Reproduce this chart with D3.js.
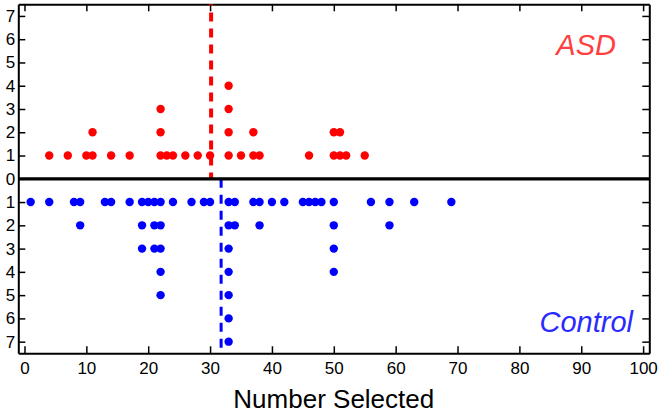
<!DOCTYPE html>
<html>
<head>
<meta charset="utf-8">
<script src="https://cdn.jsdelivr.net/npm/d3@7"></script>
<style>
  body { margin: 0; background: #fff; }
  svg { display: block; font-family: "Liberation Sans", Arial, Helvetica, sans-serif; }
</style>
</head>
<body>
<svg></svg>
<script>
(function () {
    'use strict';

    // number selected, one entry per subject
    const asdSelected = [4, 7, 10, 11, 11, 14, 17, 22, 22, 22, 23, 24, 26, 28, 30,
        33, 33, 33, 33, 35, 37, 37, 38, 46, 50, 50, 51, 51, 52, 55];
    const controlSelected = [1, 4, 8, 9, 9, 13, 14, 17, 19, 19, 19, 20, 21, 21, 21,
        22, 22, 22, 22, 22, 24, 27, 29, 30, 33, 33, 33, 33, 33, 33, 33, 34, 34, 37,
        38, 38, 40, 42, 45, 46, 47, 48, 50, 50, 50, 50, 56, 59, 59, 63, 69];

    const xTicks = d3.range(0, 101, 10);
    const yTicks = d3.range(-7, 8);
    const groupLabels = ['ASD', 'Control'];

    const width = 659;
    const height = 414;

    const margin = ({ top: 4.3, right: 9.7, bottom: 60.7, left: 18.3 });

    const x = d3.scaleLinear()
        .domain([-1, 101])
        .range([margin.left, width - margin.right]);

    const y = d3.scaleLinear()
        .domain([-7.5, 7.5])
        .range([height - margin.bottom, margin.top]);

    // stack repeated values into columns of dots
    const stack = (values, sign) => {
        const seen = new Map();
        return values.map(v => {
            const k = (seen.get(v) || 0) + 1;
            seen.set(v, k);
            return { x: v, y: sign * k };
        });
    };

    const asdPoints = stack(asdSelected, 1);
    const controlPoints = stack(controlSelected, -1);

    const svg = d3.select('svg')
        .attr('width', width)
        .attr('height', height)
        .attr('viewBox', [0, 0, width, height]);

    const styleAxis = g => {
        g.select('.domain').attr('stroke-width', 2);
        g.selectAll('.tick line').attr('stroke-width', 1.5);
        g.selectAll('.tick text').attr('fill', '#000').attr('font-size', 17);
    };

    svg.append('g')
        .attr('transform', `translate(0,${height - margin.bottom})`)
        .call(d3.axisBottom(x).tickValues(xTicks).tickSize(-7).tickSizeOuter(0).tickPadding(8.5))
        .call(styleAxis);

    svg.append('g')
        .attr('transform', `translate(0,${margin.top})`)
        .call(d3.axisTop(x).tickValues(xTicks).tickSize(-7).tickSizeOuter(0).tickFormat(''))
        .call(styleAxis);

    svg.append('g')
        .attr('transform', `translate(${margin.left},0)`)
        .call(d3.axisLeft(y).tickValues(yTicks).tickSize(-7).tickSizeOuter(0).tickPadding(3)
            .tickFormat(d => Math.abs(d)))
        .call(styleAxis);

    svg.append('g')
        .attr('transform', `translate(${width - margin.right},0)`)
        .call(d3.axisRight(y).tickValues(yTicks).tickSize(-7).tickSizeOuter(0).tickFormat(''))
        .call(styleAxis);

    svg.selectAll('.domain').attr('fill', 'none');

    // group means
    const asdMean = d3.mean(asdSelected);
    const controlMean = d3.mean(controlSelected);

    svg.append('line')
        .attr('x1', x(asdMean)).attr('x2', x(asdMean))
        .attr('y1', y(0)).attr('y2', y(7.5))
        .attr('stroke', '#ff0000')
        .attr('stroke-width', 4)
        .attr('stroke-dasharray', '9,7')
        .attr('stroke-dashoffset', 2.7);

    svg.append('line')
        .attr('x1', x(controlMean)).attr('x2', x(controlMean))
        .attr('y1', y(0)).attr('y2', y(-7.5))
        .attr('stroke', '#0000ff')
        .attr('stroke-width', 3)
        .attr('stroke-dasharray', '9,7');

    svg.append('line')
        .attr('x1', x(-1)).attr('x2', x(101))
        .attr('y1', y(0)).attr('y2', y(0))
        .attr('stroke', '#000')
        .attr('stroke-width', 3.3);

    svg.append('g')
        .selectAll('circle')
        .data(asdPoints)
        .join('circle')
        .attr('cx', d => x(d.x))
        .attr('cy', d => y(d.y))
        .attr('r', 4.2)
        .attr('fill', '#ff0000');

    svg.append('g')
        .selectAll('circle')
        .data(controlPoints)
        .join('circle')
        .attr('cx', d => x(d.x))
        .attr('cy', d => y(d.y))
        .attr('r', 4.2)
        .attr('fill', '#0000ff');

    svg.append('text')
        .attr('x', 616).attr('y', 55)
        .attr('text-anchor', 'end')
        .attr('font-size', 29)
        .attr('font-style', 'italic')
        .attr('fill', '#ff4040')
        .text(groupLabels[0]);

    svg.append('text')
        .attr('x', 633).attr('y', 332)
        .attr('text-anchor', 'end')
        .attr('font-size', 29)
        .attr('font-style', 'italic')
        .attr('fill', '#2a2aff')
        .text(groupLabels[1]);

    svg.append('text')
        .attr('x', (margin.left + width - margin.right) / 2)
        .attr('y', 408)
        .attr('text-anchor', 'middle')
        .attr('font-size', 26)
        .attr('fill', '#000')
        .text('Number Selected');
})();
</script>
</body>
</html>
